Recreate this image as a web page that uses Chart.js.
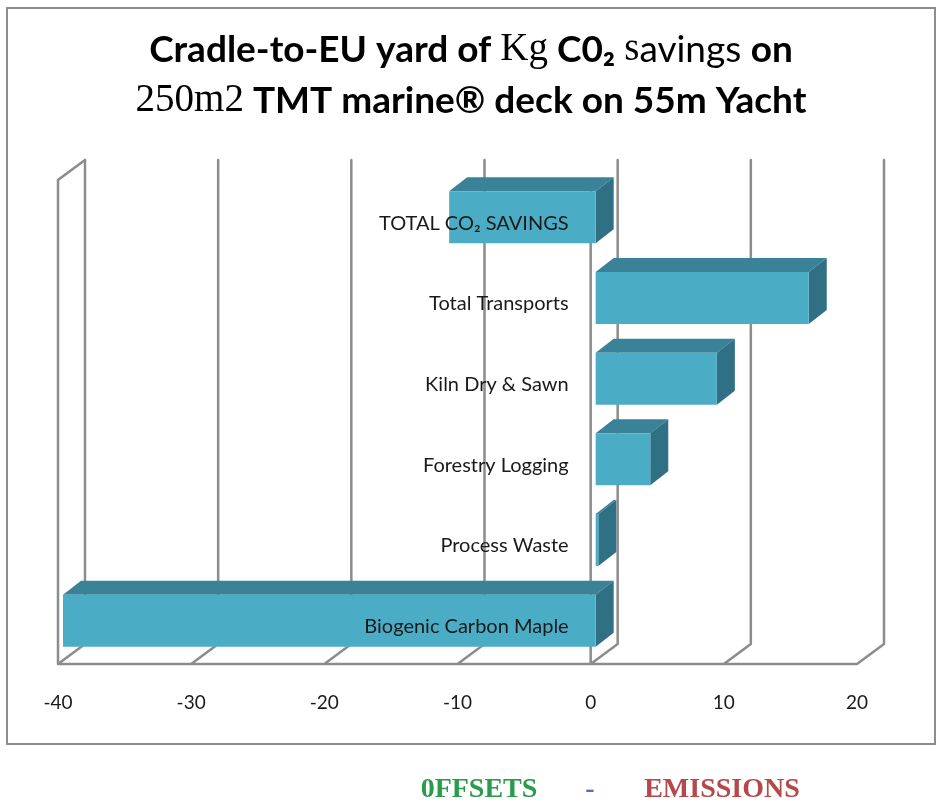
<!DOCTYPE html>
<html>
<head>
<meta charset="utf-8">
<script src="https://cdn.jsdelivr.net/npm/chart.js@4.4.1/dist/chart.umd.min.js"></script>
<style>
  html, body { margin: 0; padding: 0; background: #ffffff; }
  #wrap { width: 943px; height: 808px; position: relative; }
</style>
</head>
<body>
<div id="wrap"><canvas id="c"></canvas></div>
<script>
// ---- data ----
const categories = ["TOTAL CO₂ SAVINGS", "Total Transports", "Kiln Dry & Sawn", "Forestry Logging", "Process Waste", "Biogenic Carbon Maple"];
const values = [-11, 16, 9.1, 4.1, 0.2, -40];
const xTicks = [-40, -30, -20, -10, 0, 10, 20];
const titleLine1 = [
  ["Cradle-to-EU yard of ", "sansBold"],
  ["Kg", "serif"],
  [" C0₂ ", "sansBold"],
  ["s", "serif"],
  ["avings ", "sans"],
  ["on", "sansBold"]
];
const titleLine2 = [
  ["250m2", "serif"],
  [" TMT marine® deck on 55m Yacht", "sansBold"]
];
const footer = [
  ["0FFSETS", "#2a9a4b"],
  ["-", "#4a72c0"],
  ["EMISSIONS", "#b4484a"]
];

// ---- styles ----
const SANS = "Lato, 'Open Sans', sans-serif";
const GRID = "#8c8c8c";
const DEPTH = { x: 27, y: -20 };     // wall depth
const BAR_FRONT = { x: 5, y: -3 };   // bar front offset
const BAR_DEPTH = { x: 18, y: -14 }; // bar depth
const FRONT = "#4bacc6", TOP = "#3a8297", SIDE = "#2f7085";

function titleFont(kind) {
  if (kind === "serif") return "39px 'Liberation Serif', 'DejaVu Serif', serif";
  if (kind === "sans") return "37px " + SANS;
  return "bold 37px " + SANS;
}

function drawRuns(ctx, runs, cx, cy) {
  let total = 0;
  runs.forEach(r => { ctx.font = titleFont(r[1]); total += ctx.measureText(r[0]).width; });
  let x = cx - total / 2;
  ctx.textBaseline = "middle";
  ctx.textAlign = "left";
  ctx.fillStyle = "#000";
  runs.forEach(r => { ctx.font = titleFont(r[1]); ctx.fillText(r[0], x, cy); x += ctx.measureText(r[0]).width; });
}

const plugin3d = {
  id: "plugin3d",
  beforeDraw(chart) {
    const ctx = chart.ctx;
    ctx.save();
    ctx.fillStyle = "#fff";
    ctx.fillRect(0, 0, chart.width, chart.height);
    ctx.strokeStyle = GRID;
    ctx.lineWidth = 2;
    ctx.strokeRect(7, 8, 928, 736);
    drawRuns(ctx, titleLine1, 471, 50);
    drawRuns(ctx, titleLine2, 471, 101);
    // footer
    ctx.font = "bold 28px 'Liberation Serif', serif";
    ctx.textBaseline = "middle";
    ctx.textAlign = "center";
    const fx = [479, 590, 722];
    footer.forEach((f, i) => { ctx.fillStyle = f[1]; ctx.fillText(f[0], fx[i], 790); });
    ctx.restore();
  },
  beforeDatasetsDraw(chart) {
    const ctx = chart.ctx, xs = chart.scales.x, a = chart.chartArea;
    ctx.save();
    ctx.strokeStyle = GRID;
    ctx.lineWidth = 2.5;
    ctx.lineCap = "round";
    ctx.beginPath();
    xTicks.forEach(v => {
      const px = xs.getPixelForValue(v);
      ctx.moveTo(px + DEPTH.x, a.top + DEPTH.y);
      ctx.lineTo(px + DEPTH.x, a.bottom + DEPTH.y);
      ctx.moveTo(px, a.bottom);
      ctx.lineTo(px + DEPTH.x, a.bottom + DEPTH.y);
    });
    const x0 = xs.getPixelForValue(xTicks[0]);
    const x1 = xs.getPixelForValue(xTicks[xTicks.length - 1]);
    ctx.moveTo(x0, a.bottom);
    ctx.lineTo(x1, a.bottom);
    ctx.moveTo(x0, a.bottom);
    ctx.lineTo(x0, a.top);
    ctx.lineTo(x0 + DEPTH.x, a.top + DEPTH.y);
    const z = xs.getPixelForValue(0);
    ctx.moveTo(z, a.top);
    ctx.lineTo(z, a.bottom);
    ctx.stroke();
    ctx.restore();
  },
  beforeDatasetDraw(chart, args) {
    const ctx = chart.ctx;
    ctx.save();
    ctx.translate(BAR_FRONT.x, BAR_FRONT.y);
    args.meta.data.forEach(el => {
      const p = el.getProps(["x", "y", "base", "height"], true);
      const L = Math.min(p.x, p.base), R = Math.max(p.x, p.base);
      const T = p.y - p.height / 2, B = p.y + p.height / 2;
      const dx = BAR_DEPTH.x, dy = BAR_DEPTH.y;
      ctx.fillStyle = TOP;
      ctx.beginPath();
      ctx.moveTo(L, T); ctx.lineTo(L + dx, T + dy); ctx.lineTo(R + dx, T + dy); ctx.lineTo(R, T);
      ctx.closePath(); ctx.fill();
      ctx.fillStyle = SIDE;
      ctx.beginPath();
      ctx.moveTo(R, T); ctx.lineTo(R + dx, T + dy); ctx.lineTo(R + dx, B + dy); ctx.lineTo(R, B);
      ctx.closePath(); ctx.fill();
    });
  },
  afterDatasetDraw(chart) {
    chart.ctx.restore();
  },
  afterDatasetsDraw(chart) {
    const ctx = chart.ctx, xs = chart.scales.x, ys = chart.scales.y;
    ctx.save();
    ctx.font = "20px " + SANS;
    ctx.fillStyle = "#1a1a1a";
    ctx.textAlign = "right";
    ctx.textBaseline = "middle";
    const lx = xs.getPixelForValue(0) - 22;
    categories.forEach((c, i) => {
      ctx.fillText(c, lx, ys.getPixelForValue(i) + 3);
    });
    ctx.restore();
  }
};

new Chart(document.getElementById("c"), {
  type: "bar",
  data: {
    labels: categories,
    datasets: [{
      data: values,
      backgroundColor: FRONT,
      borderWidth: 0,
      barPercentage: 0.645,
      categoryPercentage: 1.0
    }]
  },
  options: {
    indexAxis: "y",
    responsive: true,
    maintainAspectRatio: false,
    animation: false,
    events: [],
    layout: { padding: { left: 58, right: 86, top: 180, bottom: 94 } },
    plugins: { legend: { display: false }, title: { display: false }, tooltip: { enabled: false } },
    scales: {
      x: {
        type: "linear",
        min: -40, max: 20,
        afterBuildTicks: s => { s.ticks = xTicks.map(v => ({ value: v })); },
        afterFit: s => { s.height = 50; },
        grid: { display: false, drawTicks: false },
        border: { display: false },
        ticks: { padding: 27, color: "#1a1a1a", font: { family: SANS, size: 19 }, maxRotation: 0 }
      },
      y: { display: false }
    }
  },
  plugins: [plugin3d]
});
</script>
</body>
</html>
